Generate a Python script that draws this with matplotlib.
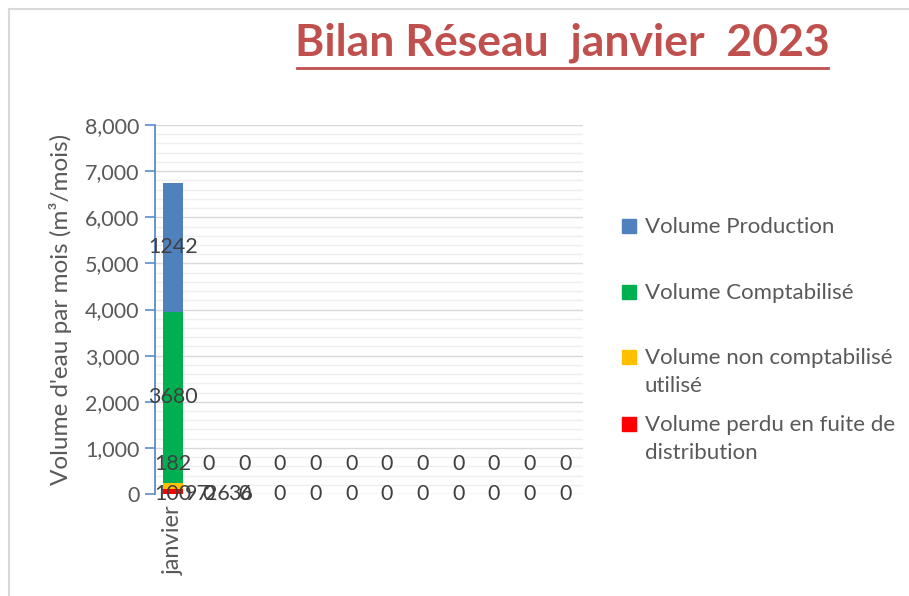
import numpy as np
import matplotlib.pyplot as plt
from matplotlib.patches import Rectangle
from matplotlib.lines import Line2D

plt.rcParams['font.family'] = ['Lato', 'DejaVu Sans']

# data
months = ['janvier', '', '', '', '', '', '', '', '', '', '', '']
vol_perdu = [100, 0, 0, 0, 0, 0, 0, 0, 0, 0, 0, 0]
vol_non_compta = [145, 0, 0, 0, 0, 0, 0, 0, 0, 0, 0, 0]
vol_compta = [3710, 0, 0, 0, 0, 0, 0, 0, 0, 0, 0, 0]
vol_production = [2790, 0, 0, 0, 0, 0, 0, 0, 0, 0, 0, 0]

lab_perdu = ['100'] + ['0'] * 11
lab_non_compta = ['182'] + ['0'] * 11
lab_compta = ['3680'] + ['0'] * 11
lab_production = ['1242'] + ['0'] * 11
# stray overlapping labels near the axis
extra_labels = ['97', '26', '36']
extra_pos = [0.68, 1.25, 1.9]

series_names = ['Volume Production', 'Volume Comptabilisé',
                'Volume non comptabilisé\nutilisé',
                'Volume perdu en fuite de\ndistribution']
colors = ['#4f81bd', '#00b050', '#ffc000', '#ff0000']

txt_col = '#595959'
lab_col = '#404040'

fig = plt.figure(figsize=(9.09, 5.96), dpi=100)
ax = fig.add_axes([0.1705, 0.1711, 0.4708, 0.6191])

x = np.arange(len(months))
w = 0.56
b1 = np.array(vol_perdu)
b2 = b1 + np.array(vol_non_compta)
b3 = b2 + np.array(vol_compta)

ax.bar(x, vol_perdu, w, color=colors[3], zorder=3)
ax.bar(x, vol_non_compta, w, bottom=b1, color=colors[2], zorder=3)
ax.bar(x, vol_compta, w, bottom=b2, color=colors[1], zorder=3)
ax.bar(x, vol_production, w, bottom=b3, color=colors[0], zorder=3)

fs_lab = 15.5
for i in range(len(months)):
    ax.text(x[i], 0, lab_perdu[i], ha='center', va='center', fontsize=fs_lab, color=lab_col, zorder=5)
    ax.text(x[i], 650, lab_non_compta[i], ha='center', va='center', fontsize=fs_lab, color=lab_col, zorder=5)
    # zero labels of these two series fall on top of the red ones
    if vol_compta[i] > 0:
        ax.text(x[i], b2[i] + vol_compta[i] / 2, lab_compta[i], ha='center', va='center',
                fontsize=fs_lab, color=lab_col, zorder=5)
    if vol_production[i] > 0:
        ax.text(x[i], b3[i] + vol_production[i] / 2, lab_production[i], ha='center', va='center',
                fontsize=fs_lab, color=lab_col, zorder=5)
for t, p in zip(extra_labels, extra_pos):
    ax.text(p, 0, t, ha='center', va='center', fontsize=fs_lab, color=lab_col, zorder=5)

ax.set_xlim(-0.5, len(months) - 0.5)
ax.set_ylim(0, 8000)
ax.set_yticks(np.arange(0, 8001, 1000))
ax.set_yticks(np.arange(0, 8001, 200), minor=True)
ax.set_yticklabels([f'{v:,}' for v in range(0, 8001, 1000)])
ax.set_xticks(x)
ax.set_xticklabels(months, rotation=90, fontsize=17, color=txt_col)
ax.tick_params(axis='x', length=0, pad=8)
ax.tick_params(axis='y', which='major', length=7, width=1.2, color='#5b8ec9',
               labelsize=15.5, labelcolor=txt_col, pad=4)
ax.tick_params(axis='y', which='minor', length=0)
ax.grid(axis='y', which='major', color='#d9d9d9', lw=1, zorder=0)
ax.grid(axis='y', which='minor', color='#efefef', lw=1, zorder=0)
for s in ['top', 'right', 'bottom']:
    ax.spines[s].set_visible(False)
ax.spines['left'].set_color('#5b8ec9')
ax.spines['left'].set_linewidth(1.3)
ax.set_ylabel("Volume d'eau par mois (m³/mois)", fontsize=17.5, color=txt_col)
ax.yaxis.set_label_coords(-0.195, 0.5)

# title with underline
fig.text(0.619, 0.929, 'Bilan Réseau  janvier  2023', ha='center', va='center',
         fontsize=32, fontweight='bold', color='#c0504d')
fig.add_artist(Line2D([297 / 909, 828 / 909], [1 - 68 / 596, 1 - 68 / 596],
                      color='#c0504d', lw=2))

# legend drawn by hand, Excel-style spacing
leg_y = [226, 292, 357, 424]
for name, c, yy in zip(series_names, colors, leg_y):
    fig.add_artist(Rectangle((622 / 909, 1 - (yy + 7) / 596), 14 / 909, 14 / 596,
                             color=c, transform=fig.transFigure))
    fig.text(645 / 909, 1 - (yy - 9) / 596, name, ha='left', va='top',
             fontsize=16, color=txt_col, linespacing=1.5)

# chart area border
fig.add_artist(Line2D([9 / 909, 9 / 909], [0, 1 - 9 / 596], color='#d9d9d9', lw=1.5))
fig.add_artist(Line2D([9 / 909, 1], [1 - 9 / 596, 1 - 9 / 596], color='#d9d9d9', lw=1.5))

fig.savefig('out.png', dpi=100)
